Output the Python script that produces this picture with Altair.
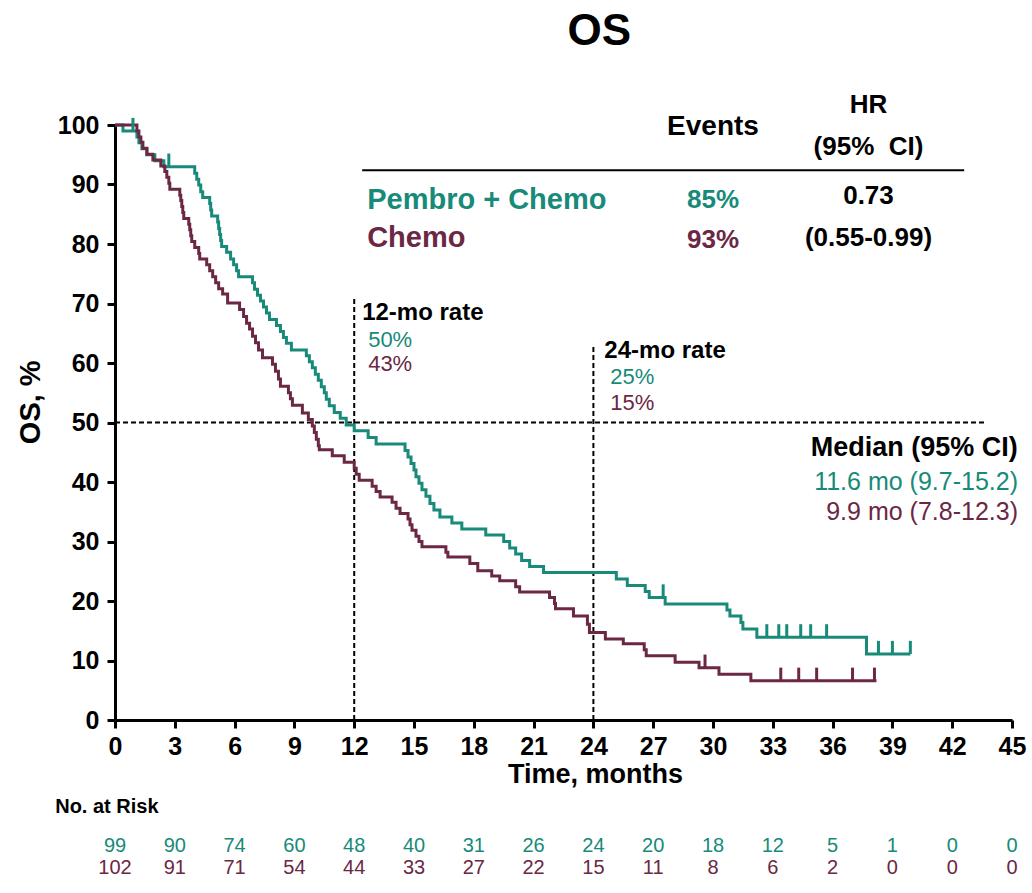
import altair as alt
import pandas as pd

# ---------------- data ----------------
pembro_time = [0, 0.4, 1.1, 1.2, 1.35, 1.6, 2.0, 2.45,
               4.0, 4.1, 4.2, 4.3, 4.4, 4.75, 4.8, 4.85,
               5.15, 5.2, 5.25, 5.3, 5.35, 5.6, 5.8, 5.95, 6.1, 6.2,
               6.9, 7.0, 7.15, 7.3, 7.45, 7.6, 7.75, 8.1, 8.3, 8.45, 8.6, 8.85,
               9.6, 9.75, 9.9, 10.05, 10.2, 10.35, 10.5, 10.6, 10.75, 11.0, 11.3, 11.6, 12.0,
               12.7, 13.1, 14.55, 14.7, 14.85, 15.0, 15.1, 15.25, 15.4, 15.6,
               15.8, 16.0, 16.3, 16.9, 17.4, 18.6, 19.5, 19.8, 20.1, 20.4, 20.8, 21.5,
               25.15, 25.7, 26.6, 26.8, 27.6, 30.7, 30.85, 31.4, 31.5, 32.2, 37.7, 39.9]
pembro_surv = [100, 99.0, 98.0, 97.0, 96.0, 95.0, 94.0, 93.0,
               91.9, 90.9, 89.9, 88.8, 87.8, 86.8, 85.7, 84.7,
               83.7, 82.6, 81.6, 80.6, 79.6, 78.6, 77.5, 76.5, 75.5, 74.5,
               73.5, 72.4, 71.4, 70.4, 69.4, 68.4, 67.3, 66.3, 65.3, 64.3, 63.3, 62.2,
               61.2, 60.2, 59.2, 58.1, 57.1, 56.0, 55.0, 53.9, 52.8, 51.7, 50.7, 49.6, 48.6,
               47.5, 46.4, 45.3, 44.2, 43.1, 42.0, 40.9, 39.8, 38.7, 37.6,
               36.4, 35.3, 34.1, 33.1, 32.1, 31.1, 30.0, 28.9, 27.9, 26.8, 25.8, 24.8,
               23.7, 22.6, 21.6, 20.6, 19.5, 18.5, 17.5, 16.4, 15.3, 13.9, 11.1, 11.1]

chemo_time = [0, 1.1, 1.2, 1.3, 1.4, 1.6, 1.9, 2.3, 2.5, 2.6, 2.7, 2.75,
              3.25, 3.3, 3.35, 3.4, 3.45, 3.7, 3.75, 3.8, 3.85, 4.0, 4.2, 4.25,
              4.6, 4.75, 4.9, 5.05, 5.2, 5.4, 5.65, 6.25, 6.45, 6.6, 6.75, 6.9, 7.05, 7.2, 7.4,
              7.9, 8.05, 8.2, 8.3, 8.7, 8.8, 8.9, 9.4, 9.7, 9.9, 10.0, 10.1, 10.2, 10.25,
              10.9, 11.5, 12.0, 12.1, 12.25, 12.9, 13.1, 13.3, 13.9, 14.1, 14.3,
              14.7, 14.8, 14.9, 15.1, 15.25, 15.4, 16.6, 16.7, 17.8, 18.2, 18.9, 19.3, 20.1, 20.3,
              21.8, 22.05, 22.1, 23.0, 23.7, 23.8, 24.6, 25.5, 26.55, 26.65, 28.1, 29.3, 30.3, 31.9, 38.2]
chemo_surv = [100, 99.0, 98.0, 97.1, 96.1, 95.1, 94.1, 93.1, 92.2, 91.2, 90.2, 89.2,
              88.2, 87.3, 86.3, 85.3, 84.3, 83.3, 82.4, 81.4, 80.4, 79.4, 78.4, 77.5,
              76.5, 75.5, 74.5, 73.5, 72.5, 71.6, 70.1, 69.0, 67.8, 66.7, 65.7, 64.5, 63.4, 62.2, 60.9,
              59.8, 58.6, 57.3, 56.1, 55.0, 54.0, 52.9, 51.6, 50.5, 49.4, 48.3, 47.2, 46.1, 45.4,
              44.4, 43.3, 42.3, 41.3, 40.3, 39.3, 38.4, 37.5, 36.6, 35.6, 34.7,
              33.8, 32.8, 31.9, 30.9, 30.0, 29.1, 28.2, 27.4, 26.3, 25.1, 24.2, 23.4, 22.4, 21.5,
              20.6, 19.6, 18.7, 17.5, 16.1, 14.7, 13.6, 12.8, 11.8, 10.8, 9.7, 8.8, 7.7, 6.6, 6.6]

pembro_cens_time = [0.9, 2.7, 27.5, 32.7, 33.3, 33.7, 34.4, 34.9, 35.7, 38.3, 39.0, 39.9]
pembro_cens_surv = [99.0, 93.0, 20.6, 13.9, 13.9, 13.9, 13.9, 13.9, 13.9, 11.1, 11.1, 11.1]
chemo_cens_time = [29.6, 33.4, 34.3, 35.2, 37.0, 38.1]
chemo_cens_surv = [8.8, 6.6, 6.6, 6.6, 6.6, 6.6]

risk_times = [0, 3, 6, 9, 12, 15, 18, 21, 24, 27, 30, 33, 36, 39, 42, 45]
risk_pembro = [99, 90, 74, 60, 48, 40, 31, 26, 24, 20, 18, 12, 5, 1, 0, 0]
risk_chemo = [102, 91, 71, 54, 44, 33, 27, 22, 15, 11, 8, 6, 2, 0, 0, 0]

groups = ["Pembro + Chemo", "Chemo"]
y_ticks = [0, 10, 20, 30, 40, 50, 60, 70, 80, 90, 100]

# ---------------- styling ----------------
TEAL = "#178a79"
MAROON = "#6b2744"
FONT = "Liberation Sans"

xs = alt.Scale(domain=[0, 45], nice=False, zero=False)
ys = alt.Scale(domain=[0, 100], nice=False)
axis_common = dict(title=None, grid=False, labelFont=FONT, labelFontWeight="bold",
                   labelFontSize=25, labelColor="black", domainColor="black",
                   domainWidth=3, tickColor="black", tickWidth=3, tickSize=8)
xaxis = alt.Axis(values=risk_times, labelPadding=6, labelFlush=False, **axis_common)
yaxis = alt.Axis(values=y_ticks, labelPadding=8, **axis_common)


def X(f):
    return alt.X(f, type="quantitative", scale=xs, axis=xaxis)


def Y(f):
    return alt.Y(f, type="quantitative", scale=ys, axis=yaxis)


km = pd.concat([
    pd.DataFrame({"t": pembro_time, "s": pembro_surv, "grp": groups[0]}),
    pd.DataFrame({"t": chemo_time, "s": chemo_surv, "grp": groups[1]}),
])
cens = pd.concat([
    pd.DataFrame({"t": pembro_cens_time, "s": pembro_cens_surv, "grp": groups[0]}),
    pd.DataFrame({"t": chemo_cens_time, "s": chemo_cens_surv, "grp": groups[1]}),
])
color = alt.Color("grp:N", scale=alt.Scale(domain=groups, range=[TEAL, MAROON]), legend=None)

lines = alt.Chart(km).mark_line(interpolate="step-after", strokeWidth=3).encode(
    x=X("t"), y=Y("s"), color=color)

ticks = alt.Chart(cens).transform_calculate(s2="datum.s + 2.2").mark_rule(strokeWidth=3).encode(
    x=X("t"), y=Y("s"), y2="s2:Q", color=color)

refs = pd.DataFrame({"x": [0, 12, 24], "x2": [43.6, 12, 24],
                     "y": [50, 0, 0], "y2": [50, 71, 63]})
ref_rules = alt.Chart(refs).mark_rule(color="black", strokeWidth=2, strokeDash=[5, 3]).encode(
    x=X("x"), x2="x2:Q", y=Y("y"), y2="y2:Q")

table_line = alt.Chart(pd.DataFrame({"x": [12.4], "x2": [42.6], "y": [92.4]})).mark_rule(
    color="black", strokeWidth=2).encode(x=X("x"), x2="x2:Q", y=Y("y"), y2="y:Q")


def txt(x, y, s, color="black", size=22, bold=False, align="left", angle=0, font=FONT):
    return alt.Chart(pd.DataFrame({"x": [x], "y": [y], "t": [s]})).mark_text(
        align=align, baseline="middle", font=font, fontSize=size,
        fontWeight="bold" if bold else "normal", color=color, angle=angle).encode(
        x=X("x"), y=Y("y"), text="t:N")


anns = [
    txt(24.3, 115.6, "OS", size=44, bold=True, align="center"),
    txt(-4.2, 53.4, "OS, %", size=29, bold=True, align="center", angle=270),
    txt(24.1, -9.3, "Time, months", size=27, bold=True, align="center"),
    txt(-3.0, -14.6, "No. at Risk", size=20, bold=True),
    # legend table
    txt(30.0, 99.7, "Events", size=28, bold=True, align="center"),
    txt(37.8, 103.4, "HR", size=26, bold=True, align="center"),
    txt(37.8, 96.3, "(95%\u00a0 CI)", size=26, bold=True, align="center"),
    txt(12.65, 87.4, "Pembro + Chemo", color=TEAL, size=29, bold=True),
    txt(12.65, 81.0, "Chemo", color=MAROON, size=29, bold=True),
    txt(30.0, 87.4, "85%", color=TEAL, size=26, bold=True, align="center"),
    txt(30.0, 80.7, "93%", color=MAROON, size=26, bold=True, align="center"),
    txt(37.8, 88.1, "0.73", size=26, bold=True, align="center"),
    txt(37.8, 81.0, "(0.55-0.99)", size=26, bold=True, align="center"),
    # landmark rates
    txt(12.4, 68.4, "12-mo rate", size=24, bold=True),
    txt(12.7, 63.9, "50%", color=TEAL, size=22),
    txt(12.7, 59.8, "43%", color=MAROON, size=22),
    txt(24.55, 62.0, "24-mo rate", size=24, bold=True),
    txt(24.85, 57.6, "25%", color=TEAL, size=22),
    txt(24.85, 53.3, "15%", color=MAROON, size=22),
    # medians
    txt(34.9, 45.7, "Median (95% CI)", size=27, bold=True),
    txt(45.3, 40.0, "11.6 mo (9.7-15.2)", color=TEAL, size=25, align="right"),
    txt(45.3, 35.0, "9.9 mo (7.8-12.3)", color=MAROON, size=25, align="right"),
]

risk = pd.DataFrame({"t": risk_times, "p": risk_pembro, "c": risk_chemo})
risk_p = alt.Chart(risk).mark_text(font=FONT, fontSize=20, color=TEAL, align="center",
                                   baseline="middle").encode(
    x=X("t"), y=alt.value(721), text="p:N")
risk_c = alt.Chart(risk).mark_text(font=FONT, fontSize=20, color=MAROON, align="center",
                                   baseline="middle").encode(
    x=X("t"), y=alt.value(743), text="c:N")

chart = alt.layer(ref_rules, table_line, lines, ticks, risk_p, risk_c, *anns).properties(
    width=897, height=595,
    padding={"left": 115, "top": 125, "right": 20, "bottom": 173},
    autosize="none", background="white",
).configure_view(stroke=None)

chart.save("out.html", embed_options={"renderer": "svg", "actions": False})
